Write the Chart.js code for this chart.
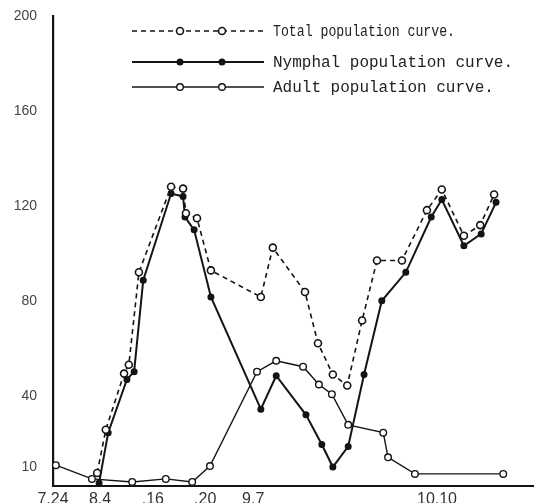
<!DOCTYPE html>
<html lang="en">
  <head>
    <meta charset="UTF-8" />
    <title>Population curves</title>
    <script src="https://cdn.jsdelivr.net/npm/chart.js"></script>
    <style>
      body { margin: 0; background: #fff; }
    </style>
  </head>
  <body>
    <canvas id="myChart" width="553" height="503"></canvas>
    <script>
      // x is a position along the date axis (0 = 7.24 ... 100 = end of axis)
      const xTicks = [0, 9.8, 20.8, 31.7, 41.7, 80];
      const xLabels = ["7.24", "8.4", ".16", ".20", "9.7", "10.10"];
      const yTicks = [10, 40, 80, 120, 160, 200];

      const totalX = [9.2, 11.0, 14.8, 15.8, 17.9, 24.6, 27.1, 27.7, 30.0, 32.9, 43.3, 45.8, 52.5, 55.2, 58.3, 61.3, 64.4, 67.5, 72.7, 77.9, 81.0, 85.6, 89.0, 91.9];
      const totalY = [7.5, 25.7, 49.4, 53.1, 92.1, 128.2, 127.4, 117.0, 114.9, 92.9, 81.7, 102.5, 83.8, 62.2, 49.0, 44.4, 71.8, 97.1, 97.1, 118.3, 127.0, 107.5, 112.0, 124.9];

      const nymphX = [9.6, 11.5, 15.4, 16.9, 18.8, 24.6, 27.1, 27.5, 29.4, 32.9, 43.3, 46.5, 52.7, 56.0, 58.3, 61.5, 64.8, 68.5, 73.5, 78.8, 81.0, 85.6, 89.2, 92.3];
      const nymphY = [3.3, 24.5, 46.9, 50.2, 88.8, 125.3, 124.1, 115.4, 110.0, 81.7, 34.4, 48.5, 32.0, 19.5, 10.0, 18.7, 49.0, 80.1, 92.1, 115.4, 122.8, 103.3, 108.3, 121.6];

      const adultX = [0.6, 8.1, 16.5, 23.5, 29.0, 32.7, 42.5, 46.5, 52.1, 55.4, 58.1, 61.5, 68.8, 69.8, 75.4, 93.8];
      const adultY = [10.8, 5.0, 3.7, 5.0, 3.7, 10.4, 50.2, 54.8, 52.3, 44.8, 40.7, 27.8, 24.5, 14.1, 7.1, 7.1];

      const labels = ["Total population curve.", "Nymphal population curve.", "Adult population curve."];

      function pts(xs, ys) {
        return xs.map(function (x, i) {
          return { x: x, y: ys[i] };
        });
      }

      const ink = "#141414";

      // legend drawn like the original: a short sample line with two markers
      const sampleLegend = {
        id: "sampleLegend",
        afterDatasetsDraw(chart) {
          const c = chart.ctx;
          const rows = [31, 62, 87];
          const widths = [182, 242, 222];
          chart.data.datasets.forEach(function (ds, i) {
            const y = rows[i];
            c.save();
            c.strokeStyle = ink;
            c.lineWidth = ds.borderWidth;
            c.setLineDash(ds.borderDash || []);
            c.beginPath();
            c.moveTo(132, y);
            c.lineTo(264, y);
            c.stroke();
            c.setLineDash([]);
            [180, 222].forEach(function (px) {
              c.beginPath();
              c.arc(px, y, ds.pointRadius, 0, Math.PI * 2);
              c.fillStyle = ds.pointBackgroundColor;
              c.fill();
              c.lineWidth = ds.pointBorderWidth;
              c.stroke();
            });
            c.fillStyle = "#222";
            c.font = "16px 'Liberation Mono'";
            c.textBaseline = "middle";
            c.fillText(ds.label, 273, y + 1, widths[i]);
            c.restore();
          });
        },
      };

      const ctx = document.querySelector("#myChart");
      new Chart(ctx, {
        type: "line",
        data: {
          datasets: [
            {
              label: labels[0],
              data: pts(totalX, totalY),
              borderColor: ink,
              borderWidth: 1.6,
              borderDash: [5, 4],
              pointRadius: 3.5,
              pointBackgroundColor: "#fff",
              pointBorderColor: ink,
              pointBorderWidth: 1.6,
              tension: 0,
            },
            {
              label: labels[1],
              data: pts(nymphX, nymphY),
              borderColor: ink,
              borderWidth: 2,
              pointRadius: 2.8,
              pointBackgroundColor: ink,
              pointBorderColor: ink,
              pointBorderWidth: 1.4,
              tension: 0,
            },
            {
              label: labels[2],
              data: pts(adultX, adultY),
              borderColor: ink,
              borderWidth: 1.4,
              pointRadius: 3.3,
              pointBackgroundColor: "#fff",
              pointBorderColor: ink,
              pointBorderWidth: 1.4,
              tension: 0,
            },
          ],
        },
        options: {
          responsive: false,
          animation: false,
          clip: false,
          layout: { padding: { top: 9, right: 20, left: 0, bottom: 0 } },
          plugins: {
            legend: { display: false },
            tooltip: { enabled: false },
          },
          scales: {
            x: {
              type: "linear",
              min: 0,
              max: 100,
              afterFit(scale) {
                scale.height = 17;
              },
              afterBuildTicks(scale) {
                scale.ticks = xTicks.map(function (v) {
                  return { value: v };
                });
              },
              ticks: {
                padding: 1,
                color: "#333",
                font: { family: "Liberation Sans", size: 16 },
                callback: function (value, index) {
                  return xLabels[index];
                },
              },
              grid: { display: false, drawTicks: true, tickLength: 3, color: ink },
              border: { color: ink, width: 2 },
            },
            y: {
              min: 2,
              max: 200,
              afterFit(scale) {
                scale.width = 53;
              },
              afterBuildTicks(scale) {
                scale.ticks = yTicks.map(function (v) {
                  return { value: v };
                });
              },
              ticks: {
                padding: 8,
                color: "#444",
                font: { family: "Liberation Sans", size: 14 },
              },
              grid: { display: false },
              border: { color: ink, width: 2.2 },
            },
          },
        },
        plugins: [sampleLegend],
      });
    </script>
  </body>
</html>
